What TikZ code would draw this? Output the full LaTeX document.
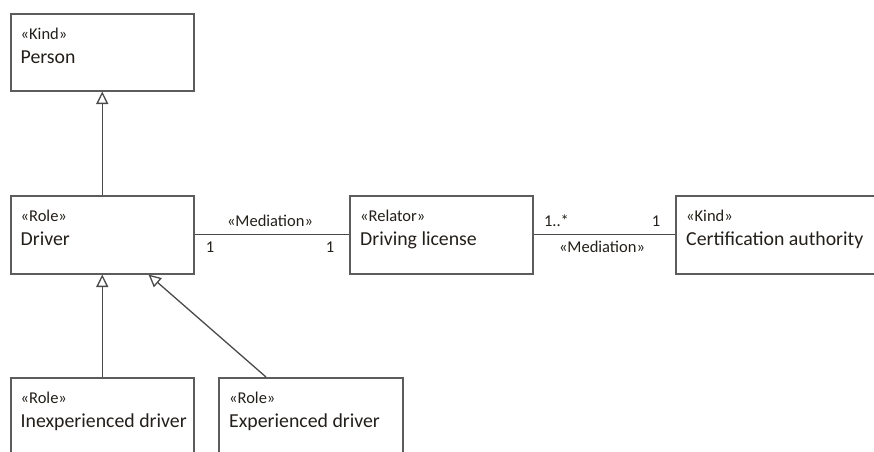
\documentclass[tikz,border=0pt]{standalone}
\usepackage{fontspec}
\setmainfont{Carlito}
\usetikzlibrary{arrows.meta,calc}
\definecolor{boxline}{HTML}{5C5C5C}
\definecolor{wire}{HTML}{4A4A4A}
\definecolor{ink}{HTML}{231F1A}
\tikzset{
  classbox/.style={draw=boxline, line width=1.5pt, fill=white, rectangle,
    inner sep=0pt, anchor=north west},
  stereo/.style={anchor=base west, inner sep=0pt, text=ink,
    font=\fontsize{16.5pt}{18pt}\selectfont},
  cname/.style={anchor=base west, inner sep=0pt, text=ink,
    font=\fontsize{19.8pt}{22pt}\selectfont},
  elabel/.style={anchor=base, inner sep=0pt, text=ink,
    font=\fontsize{16.5pt}{18pt}\selectfont},
  gen/.style={draw=wire, line width=1.3pt,
    -{Triangle[open, length=12.5pt, width=12pt, fill=white]}},
  assoc/.style={draw=wire, line width=1.3pt},
}
\begin{document}
\begin{tikzpicture}[x=1pt, y=-1pt]
\useasboundingbox (0,0) rectangle (874,451);
\fill[white] (0,0) rectangle (874,451);
\clip (0,0) rectangle (874,451);

% class boxes
\node[classbox, minimum width=183pt, minimum height=77pt] (person) at (10,13) {};
\node[classbox, minimum width=183pt, minimum height=78pt] (driver) at (10,195) {};
\node[classbox, minimum width=183pt, minimum height=78pt] (license) at (349,195) {};
\node[classbox, minimum width=215pt, minimum height=78pt] (cert) at (675,195) {};
\node[classbox, minimum width=183pt, minimum height=90pt] (inexp) at (10,377) {};
\node[classbox, minimum width=184pt, minimum height=90pt] (exp) at (218,377) {};

% stereotypes and names
\node[stereo] (personS) at ($(person.north west)+(10.5,26)$) {«Kind»};
\node[cname]  (personN) at ($(person.north west)+(10.5,50)$) {Person};
\node[stereo] (driverS) at ($(driver.north west)+(10.5,26)$) {«Role»};
\node[cname]  (driverN) at ($(driver.north west)+(10.5,50)$) {Driver};
\node[stereo] (licenseS) at ($(license.north west)+(11,26)$) {«Relator»};
\node[cname]  (licenseN) at ($(license.north west)+(11,50)$) {Driving license};
\node[stereo] (certS) at ($(cert.north west)+(11,26)$) {«Kind»};
\node[cname]  (certN) at ($(cert.north west)+(11,50)$) {Certification authority};
\node[stereo] (inexpS) at ($(inexp.north west)+(10.5,26)$) {«Role»};
\node[cname]  (inexpN) at ($(inexp.north west)+(10.5,50)$) {Inexperienced driver};
\node[stereo] (expS) at ($(exp.north west)+(11,26)$) {«Role»};
\node[cname]  (expN) at ($(exp.north west)+(11,50)$) {Experienced driver};

% generalizations
\draw[gen] (driver.north) -- (person.south);
\draw[gen] (inexp.north) -- (driver.south);
\draw[gen] ($(exp.north west)+(48,0)$) -- ($(driver.south east)+(-46,0)$);

% mediations
\draw[assoc] (driver.east) -- (license.west);
\node[elabel] (med1) at (270,226) {«Mediation»};
\node[elabel] (m1a) at (210,252) {1};
\node[elabel] (m1b) at (330,252) {1};

\draw[assoc] (license.east) -- (cert.west);
\node[elabel] (m2a) at (556.5,226.5) {1..*};
\node[elabel] (m2b) at (656,226.5) {1};
\node[elabel] (med2) at (602,252.5) {«Mediation»};
\end{tikzpicture}
\end{document}
